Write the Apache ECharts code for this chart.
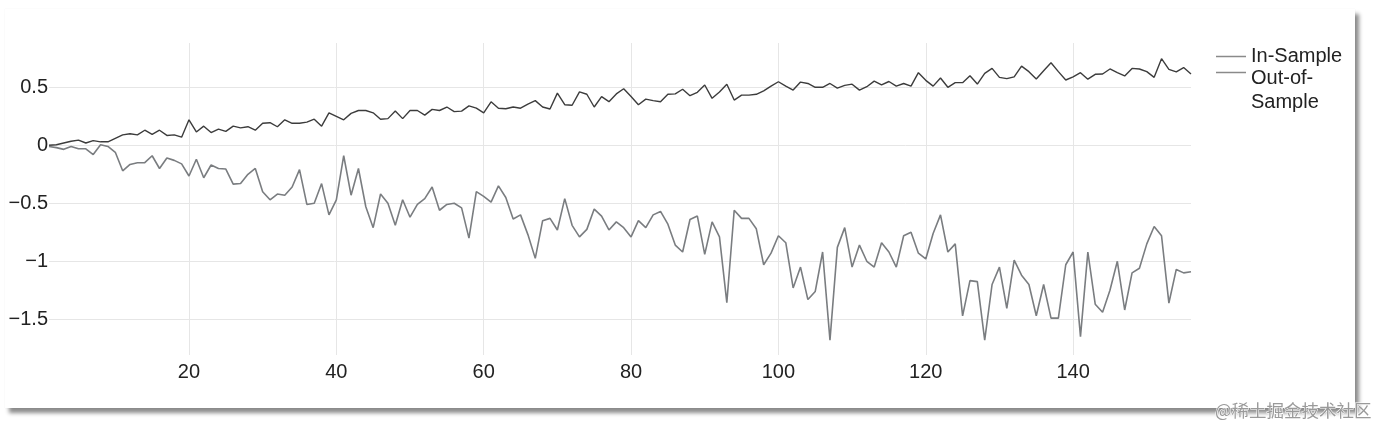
<!DOCTYPE html>
<html>
<head>
<meta charset="utf-8">
<script src="https://cdn.jsdelivr.net/npm/echarts@6/dist/echarts.min.js"></script>
<style>
  html, body { margin: 0; padding: 0; background: #ffffff; }
  #card { position: absolute; left: 5px; top: 9px; width: 1350px; height: 399px; background: #fff;
          box-shadow: 4px 5px 4px rgba(0,0,0,0.45), 0 0 1px rgba(0,0,0,0.08); }
  #chart { position: absolute; left: 0; top: 0; width: 1379px; height: 429px; }
</style>
</head>
<body>
<div id="card"></div>
<div id="chart"></div>
<script>
// Period index (x) 1..156
const periods = [];
for (let i = 1; i <= 156; i++) periods.push(i);

const inSample = [
  0.0, 0.005, 0.02, 0.035, 0.045, 0.02, 0.04, 0.03, 0.03, 0.06,
  0.09, 0.10, 0.09, 0.13, 0.095, 0.13, 0.085, 0.09, 0.07, 0.22,
  0.115, 0.165, 0.11, 0.14, 0.12, 0.165, 0.15, 0.16, 0.13, 0.19,
  0.195, 0.16, 0.22, 0.19, 0.19, 0.2, 0.225, 0.165, 0.28, 0.25,
  0.22, 0.275, 0.3, 0.3, 0.28, 0.225, 0.23, 0.295, 0.23, 0.3,
  0.3, 0.26, 0.31, 0.30, 0.33, 0.29, 0.295, 0.34, 0.32, 0.28,
  0.375, 0.32, 0.315, 0.33, 0.32, 0.355, 0.385, 0.33, 0.313, 0.45,
  0.35, 0.345, 0.46, 0.44, 0.33, 0.42, 0.376, 0.443, 0.488, 0.42,
  0.35, 0.398, 0.385, 0.376, 0.44, 0.443, 0.483, 0.428, 0.457, 0.52,
  0.405, 0.46, 0.527, 0.39, 0.433, 0.433, 0.44, 0.47, 0.51, 0.548,
  0.51, 0.476, 0.545, 0.533, 0.5, 0.5, 0.533, 0.493, 0.517, 0.527,
  0.476, 0.505, 0.553, 0.52, 0.55, 0.51, 0.533, 0.51, 0.626, 0.56,
  0.51, 0.58, 0.50, 0.54, 0.54, 0.60, 0.528, 0.62, 0.663, 0.586,
  0.575, 0.59, 0.683, 0.635, 0.572, 0.643, 0.712, 0.635, 0.563, 0.59,
  0.626, 0.57, 0.612, 0.615, 0.658, 0.626, 0.598, 0.663, 0.658, 0.635,
  0.586, 0.747, 0.655, 0.633, 0.67, 0.615
];

const outOfSample = [
  -0.01, -0.02, -0.035, -0.01, -0.03, -0.03, -0.08, 0.005, -0.01, -0.06,
  -0.22, -0.165, -0.15, -0.15, -0.09, -0.2, -0.11, -0.13, -0.16, -0.265,
  -0.12, -0.28, -0.17, -0.2, -0.205, -0.335, -0.33, -0.25, -0.2, -0.40,
  -0.47, -0.42, -0.43, -0.36, -0.21, -0.51, -0.5, -0.33, -0.6, -0.47,
  -0.09, -0.43, -0.2, -0.53, -0.71, -0.42, -0.5, -0.69, -0.47, -0.62,
  -0.51, -0.46, -0.36, -0.56, -0.51, -0.5, -0.54, -0.80, -0.40, -0.44,
  -0.49, -0.35, -0.45, -0.635, -0.6, -0.77, -0.975, -0.65, -0.63, -0.73,
  -0.46, -0.69, -0.79, -0.725, -0.55, -0.61, -0.73, -0.66, -0.71, -0.79,
  -0.65, -0.71, -0.6, -0.57, -0.68, -0.86, -0.92, -0.64, -0.61, -0.94,
  -0.66, -0.79, -1.357, -0.56, -0.63, -0.63, -0.72, -1.03, -0.93, -0.78,
  -0.84, -1.23, -1.05, -1.33, -1.26, -0.92, -1.68, -0.88, -0.71, -1.05,
  -0.86, -1.0, -1.05, -0.84, -0.92, -1.05, -0.78, -0.75, -0.93, -0.98,
  -0.76, -0.60, -0.92, -0.85, -1.47, -1.167, -1.175, -1.68, -1.2, -1.05,
  -1.405, -0.99, -1.12, -1.2, -1.47, -1.2, -1.49, -1.49, -1.03, -0.92,
  -1.65, -0.92, -1.37, -1.44, -1.25, -1.0, -1.42, -1.1, -1.06, -0.85,
  -0.7, -0.78, -1.36, -1.07, -1.1, -1.09
];

const xTicks = [20, 40, 60, 80, 100, 120, 140];
const yTicks = [-1.5, -1, -0.5, 0, 0.5];
const seriesNames = ['In-Sample', 'Out-of-Sample'];

const FONT = '"Liberation Sans", Arial, Helvetica, sans-serif';
const chart = echarts.init(document.getElementById('chart'), null, { renderer: 'canvas' });

function pairs(arr) { return arr.map((v, i) => [periods[i], v]); }

chart.setOption({
  animation: false,
  backgroundColor: 'transparent',
  grid: { left: 49, right: 188, top: 43, bottom: 74, containLabel: false },
  xAxis: {
    type: 'value', min: 1, max: 156,
    axisLine: { show: false },
    axisTick: { show: false, customValues: xTicks },
    axisLabel: { customValues: xTicks, color: '#222', fontSize: 20, fontFamily: FONT, margin: 7 },
    splitLine: { show: true, lineStyle: { color: '#e6e6e6', width: 1 } }
  },
  yAxis: {
    type: 'value', min: -1.808, max: 0.882,
    axisLine: { show: false },
    axisTick: { show: false, customValues: yTicks },
    axisLabel: {
      customValues: yTicks, color: '#222', fontSize: 20, fontFamily: FONT, margin: 1,
      formatter: v => (v < 0 ? '\u2212' + String(Math.abs(v)) : String(v))
    },
    splitLine: { show: true, lineStyle: { color: '#e6e6e6', width: 1 } }
  },
  legend: [
    {
      data: [{ name: seriesNames[0] }],
      orient: 'vertical', left: 1216, top: 45, padding: 0,
      icon: 'rect', itemWidth: 30, itemHeight: 1.5,
      itemStyle: { color: '#8a8a8a' },
      textStyle: { color: '#222', fontSize: 20, fontFamily: FONT, lineHeight: 23 },
      selectedMode: false
    },
    {
      data: [{ name: seriesNames[1] }],
      orient: 'vertical', left: 1216, top: 31, padding: 0,
      icon: 'rect', itemWidth: 30, itemHeight: 1.5,
      itemStyle: { color: '#8a8a8a' },
      formatter: n => n === 'Out-of-Sample' ? '{p| }\n{t|Out-of-}\n{t|Sample}' : n,
      textStyle: {
        color: '#222', fontSize: 20, fontFamily: FONT, lineHeight: 23,
        rich: {
          p: { fontSize: 20, lineHeight: 35, fontFamily: FONT },
          t: { fontSize: 20, lineHeight: 24, fontFamily: FONT, color: '#222' }
        }
      },
      selectedMode: false
    }
  ],
  series: [
    {
      name: seriesNames[0], type: 'line', data: pairs(inSample),
      showSymbol: false, symbol: 'none',
      lineStyle: { color: '#3c3c3c', width: 1.4 }, itemStyle: { color: '#3c3c3c' }
    },
    {
      name: seriesNames[1], type: 'line', data: pairs(outOfSample),
      showSymbol: false, symbol: 'none',
      lineStyle: { color: '#7a7d80', width: 1.6 }, itemStyle: { color: '#7a7d80' }
    }
  ],
  graphic: [
    {
      type: 'text', right: 7, top: 401, silent: true,
      style: { text: '@稀土掘金技术社区', fontSize: 17.5, fontFamily: '"Noto Sans CJK SC", sans-serif',
               fill: '#9a9a9a', stroke: '#ffffff', lineWidth: 1 }
    }
  ]
});
</script>
</body>
</html>
